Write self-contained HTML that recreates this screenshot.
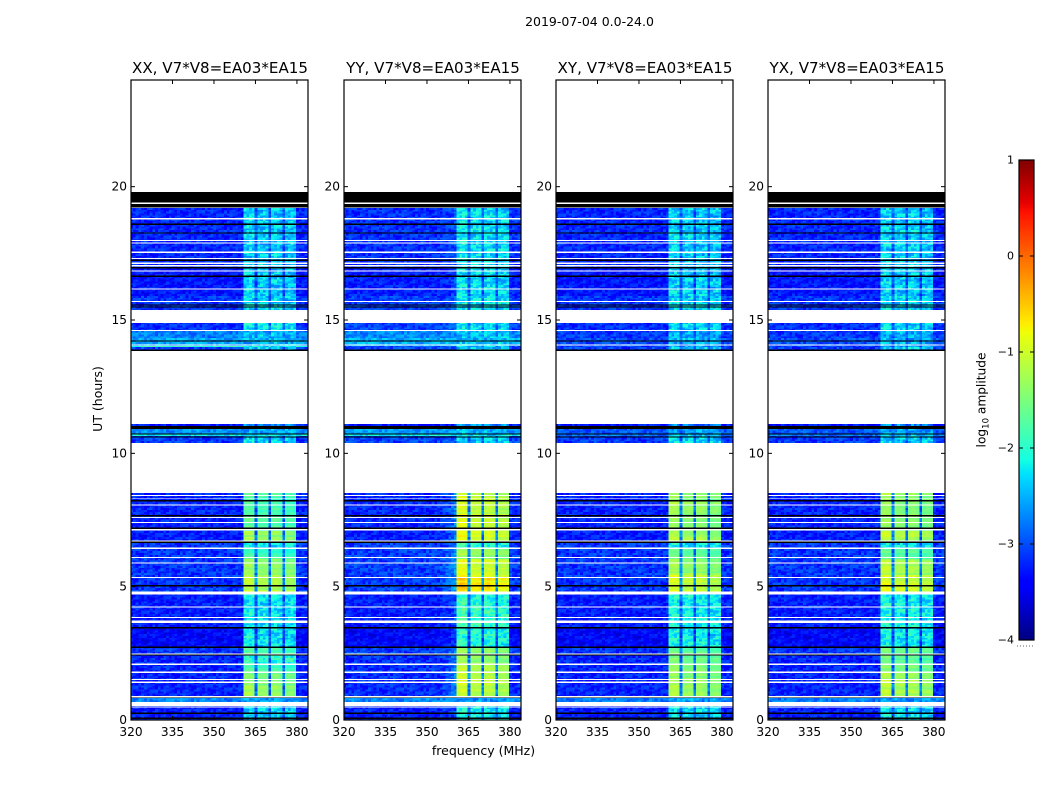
<!DOCTYPE html>
<html lang="en">
<head>
<meta charset="utf-8">
<title>2019-07-04 0.0-24.0</title>
<style>
html,body{margin:0;padding:0;background:#fff;width:1050px;height:800px;overflow:hidden}
svg{display:block}
text{font-family:"DejaVu Sans","Liberation Sans",sans-serif;fill:#000}
</style>
</head>
<body>
<svg id="chart" xmlns="http://www.w3.org/2000/svg" width="1050" height="800" viewBox="0 0 1050 800">
  <text x="589.5" y="26" text-anchor="middle" font-size="12.5">2019-07-04 0.0-24.0</text>
  <text x="483.5" y="755" text-anchor="middle" font-size="12.5">frequency (MHz)</text>
  <text transform="translate(102,399) rotate(-90)" text-anchor="middle" font-size="12.5">UT (hours)</text>
  <text transform="translate(985.5,400) rotate(-90)" text-anchor="middle" font-size="12.2">log<tspan font-size="8.5" dy="3">10</tspan><tspan dy="-3"> amplitude</tspan></text>
  <g id="panels"></g>
  <g id="colorbar"></g>
</svg>
<script>
// ---- Panels and axes ----
const panelTitles = ["XX, V7*V8=EA03*EA15", "YY, V7*V8=EA03*EA15", "XY, V7*V8=EA03*EA15", "YX, V7*V8=EA03*EA15"];
const freqTicks = [320, 335, 350, 365, 380];
const utTicks = [0, 5, 10, 15, 20];
const colorbarTicks = [-4, -3, -2, -1, 0, 1];

// ---- Time chunks in UT hours: one entry per observed block ----
const chunkStart = [16.99,15.90,15.375,14.59,14.32,14.03,13.99,13.84,11.03,10.73,10.65,10.39,7.09,6.71,6.41,6.04,5.44,4.80,4.24,3.49,2.74,2.475,2.10,1.80,1.50,0.86,0.68,0.00];
const chunkEnd   = [19.20,16.99,15.90,14.925,14.59,14.32,14.03,13.99,11.10,10.91,10.73,10.65,8.51,7.09,6.71,6.41,6.04,5.44,4.80,4.24,3.49,2.74,2.475,2.10,1.80,1.50,0.86,0.68];

// ---- Background level per chunk, log10 amplitude ----
const bgXX = [-3.2,-3.3,-3.12,-3.15,-2.75,-2.55,-1.9,-3.1,-3.3,-2.65,-2.2,-3.1,-3.22,-3.25,-3.12,-3.12,-3.12,-3.12,-3.25,-3.25,-3.4,-3.12,-3.22,-3.22,-3.22,-3.22,-2.7,-3.25];
const bgYY = [-3.15,-3.25,-3.08,-3.05,-2.7,-2.5,-3.0,-3.05,-3.3,-2.6,-2.2,-3.05,-3.2,-3.25,-3.08,-3.08,-3.08,-3.08,-3.25,-3.25,-3.4,-3.08,-3.17,-3.17,-3.17,-3.17,-2.7,-3.25];
const bgXY = [-3.2,-3.3,-3.12,-3.15,-3.1,-3.0,-3.1,-3.1,-3.3,-2.95,-2.8,-3.1,-3.22,-3.25,-3.12,-3.12,-3.12,-3.12,-3.25,-3.25,-3.4,-3.12,-3.22,-3.22,-3.22,-3.22,-2.75,-3.25];
const bgYX = [-3.2,-3.3,-3.12,-3.15,-3.1,-3.0,-3.1,-3.1,-3.3,-2.95,-2.8,-3.1,-3.22,-3.25,-3.12,-3.12,-3.12,-3.12,-3.25,-3.25,-3.4,-3.12,-3.22,-3.22,-3.22,-3.22,-2.75,-3.25];

// ---- Level of the 360-380 MHz band per chunk, log10 amplitude ----
const bandXX = [-2.35,-2.35,-2.3,-2.2,-2.45,-2.45,-2.4,-2.3,-2.6,-2.5,-2.3,-2.3,-1.75,-1.35,-2.2,-1.85,-1.4,-1.15,-2.2,-2.2,-2.2,-1.8,-1.95,-1.75,-1.55,-1.35,-2.6,-2.3];
const bandYY = [-2.25,-2.25,-2.2,-2.2,-2.4,-2.4,-2.4,-2.3,-2.6,-2.5,-2.3,-2.3,-1.0,-0.85,-2.0,-1.35,-0.9,-0.65,-2.0,-1.9,-2.0,-1.3,-1.35,-1.2,-1.05,-1.05,-2.6,-2.15];
const bandXY = [-2.35,-2.35,-2.3,-2.3,-2.5,-2.5,-2.5,-2.35,-2.7,-2.55,-2.4,-2.35,-1.35,-1.2,-2.2,-1.7,-1.3,-1.0,-2.15,-2.1,-2.15,-1.6,-1.6,-1.45,-1.35,-1.25,-2.6,-2.25];
const bandYX = [-2.35,-2.35,-2.3,-2.3,-2.5,-2.5,-2.5,-2.35,-2.7,-2.55,-2.4,-2.35,-1.35,-1.15,-2.2,-1.65,-1.2,-0.95,-2.15,-2.1,-2.15,-1.6,-1.6,-1.45,-1.3,-1.2,-2.6,-2.25];
const bgSeries = [bgXX, bgYY, bgXY, bgYX];
const bandSeries = [bandXX, bandYY, bandXY, bandYX];

// ---- Per-channel band response, channels start at 319.7 MHz (0 = background, 1 = band level) ----
const channelGain = [
  0,0,0,0,0,0,0,0,0,0, 0,0,0,0,0,0,0,0,0,0,
  0,0,0,0,0,0,0,0,0,0, 0,0,0,0,0,0,0,0,0,0,
  0,1.02,1.05,1.05,1,.33,.97,.96,.97,.96,
  .3,.97,1,.97,.93,.3,.9,.93,.93,.88,
  0,0,0,0,0];
// Extra leakage below the band seen in the YY panel only
const yyLeakChannels = [35,36,37,38,39,40];
const yyLeakGain = [.03,.05,.08,.1,.15,.2];

// Hand-typed grain offsets in dex, an approximation of the speckle in the picture
const speckleOffsets = [.12,-.28,.05,.31,-.14,-.33,.21,-.06,.16,-.24,.28,-.02,-.31,.09,.24,-.18,.02,-.36,.19,.07,
  -.11,.33,-.26,.14,-.04,-.21,.26,.01,-.34,.11,-.16,.22,-.08,.3,-.29,.04,.17,-.22,-.01,.25,
  -.13,.08,-.3,.2,-.09,.29,-.25,.13,-.19,.03,.27,-.35,.1,-.05,.23,-.15,.06,-.27,.18,-.1,.32];

// ---- Flagged rows, [centre UT, width in hours], the same in every panel ----
const blackFlags = [[19.6,.4],[19.28,.14],[18.59,.04],[18.27,.04],[17.24,.04],[16.96,.04],[16.64,.04],[15.56,.05],[15.49,.05],[14.22,.04],[13.86,.05],[10.97,.12],[10.72,.04],[10.62,.04],[8.22,.06],[7.66,.05],[7.19,.05],[6.67,.05],[5.04,.05],[3.46,.05],[2.73,.05],[2.45,.05],[0.85,.05],[0.25,.05],[0.07,.05]];
const whiteFlags = [[19.375,.03],[18.79,.06],[17.98,.04],[17.89,.04],[17.54,.04],[17.31,.04],[17.13,.05],[17.03,.05],[16.83,.04],[16.17,.04],[15.7,.04],[14.91,.04],[14.6,.04],[14.06,.04],[8.42,.04],[8.06,.04],[7.59,.04],[7.41,.04],[7.14,.06],[6.72,.04],[6.44,.04],[6.1,.04],[5.88,.04],[5.35,.04],[4.77,.11],[4.23,.04],[3.85,.04],[3.69,.09],[2.475,.04],[2.09,.04],[1.79,.04],[1.52,.04],[1.42,.05],[0.875,.05],[0.6,.16],[0.49,.03]];

// ---- Geometry and scales ----
const panelLefts = [131, 344, 556, 768];
const panelWidth = 177;
const plotTop = 80, plotBottom = 720;
const freqMin = 320, freqMax = 384, utMin = 0, utMax = 24;
const channelOrigin = 319.7;
const rowStep = 0.07;
function xScale(panel, f){ return panelLefts[panel] + (Math.max(freqMin, Math.min(freqMax, f)) - freqMin) / (freqMax - freqMin) * panelWidth; }
function yScale(u){ return plotBottom - (u - utMin) / (utMax - utMin) * (plotBottom - plotTop); }

const NS = "http://www.w3.org/2000/svg";
function make(tag, parent, attrs){
  const el = document.createElementNS(NS, tag);
  for (const k in attrs) el.setAttribute(k, attrs[k]);
  parent.appendChild(el);
  return el;
}
function lerpStops(stops, v){
  for (let i = 1; i < stops.length; i++){
    if (v <= stops[i][0]){
      const a = stops[i-1], b = stops[i];
      return a[1] + (b[1]-a[1]) * (v-a[0]) / (b[0]-a[0]);
    }
  }
  return stops[stops.length-1][1];
}
const jetR = [[0,0],[.35,0],[.66,1],[.89,1],[1,.5]];
const jetG = [[0,0],[.125,0],[.375,1],[.64,1],[.91,0],[1,0]];
const jetB = [[0,.5],[.11,1],[.34,1],[.65,0],[1,0]];
function colorOf(level){
  const v = Math.max(0, Math.min(1, (level + 4) / 5));
  const c = s => Math.round(255 * lerpStops(s, v));
  return "rgb(" + c(jetR) + "," + c(jetG) + "," + c(jetB) + ")";
}

const panelsGroup = document.getElementById("panels");
panelTitles.forEach(function(title, p){
  const g = make("g", panelsGroup, {});
  
  

  const cells = make("g", g, {"shape-rendering": "crispEdges"});
  
  

  let rowIndex = 0;
  chunkStart.forEach(function(start, k){
    const end = chunkEnd[k];
    const rows = Math.max(1, Math.round((end - start) / rowStep));
    const dt = (end - start) / rows;
    for (let r = 0; r < rows; r++){
      rowIndex++;
      const streak = speckleOffsets[(rowIndex * 7 + p) % speckleOffsets.length];
      for (let ch = 0; ch < channelGain.length; ch++){
        let gain = channelGain[ch];
        if (p === 1){
          const li = yyLeakChannels.indexOf(ch);
          if (li >= 0) gain = yyLeakGain[li];
        }
        const bg = bgSeries[p][k], band = bandSeries[p][k];
        const strong = band > -1.9;
        if (strong && gain >= 0.25 && gain < 0.5) gain *= 0.65;
        const grain = speckleOffsets[(ch * 17 + rowIndex * 29 + p * 11) % speckleOffsets.length];
        let level = bg + gain * (band - bg);
        if (gain > 0.5){
          level += strong ? grain * 0.22 + streak * 0.4 : grain * 0.95 + streak * 0.2;
        } else {
          level += grain * 0.75;
        }
        const x0 = xScale(p, channelOrigin + ch), x1 = xScale(p, channelOrigin + ch + 1);
        const yTop = yScale(start + (r + 1) * dt), yBot = yScale(start + r * dt);
        const cell = make("rect", cells, {x: x0.toFixed(2), y: yTop.toFixed(2), width: (x1 - x0).toFixed(2), height: (yBot - yTop).toFixed(2), fill: colorOf(level)});
        
        
      }
    }
  });

  const x0 = xScale(p, freqMin), x1 = xScale(p, freqMax);
  const drawFlag = function(f, color, name){
    const t = yScale(f[0] + f[1] / 2), b = yScale(f[0] - f[1] / 2);
    const flag = make("rect", g, {x: x0, y: t.toFixed(2), width: x1 - x0, height: Math.max(1, b - t).toFixed(2), fill: color, "shape-rendering": "crispEdges"});
    
    
  };
  blackFlags.forEach(function(f){ drawFlag(f, "#000", "flagged-row-black"); });
  whiteFlags.forEach(function(f){ drawFlag(f, "#fff", "flagged-row-white"); });

  const frame = make("rect", g, {x: x0, y: plotTop, width: x1 - x0, height: plotBottom - plotTop, fill: "none", stroke: "#000", "stroke-width": 1.2});
  
  

  const titleEl = make("text", g, {x: (x0 + x1) / 2 + 0.5, y: 73, "text-anchor": "middle", "font-size": 15.1});
  titleEl.textContent = title;
  
  

  freqTicks.forEach(function(f){
    const x = xScale(p, f);
    const tb = make("line", g, {x1: x, x2: x, y1: plotBottom, y2: plotBottom - 4, stroke: "#000", "stroke-width": 1});
    
    
    const tt = make("line", g, {x1: x, x2: x, y1: plotTop, y2: plotTop + 4, stroke: "#000", "stroke-width": 1});
    
    
    const lbl = make("text", g, {x: x, y: 736, "text-anchor": "middle", "font-size": 12.2});
    lbl.textContent = String(f);
    
    
  });
  utTicks.forEach(function(u){
    const y = yScale(u);
    const tl = make("line", g, {x1: x0, x2: x0 + 4, y1: y, y2: y, stroke: "#000", "stroke-width": 1});
    
    
    const tr = make("line", g, {x1: x1, x2: x1 - 4, y1: y, y2: y, stroke: "#000", "stroke-width": 1});
    
    
    const lbl = make("text", g, {x: x0 - 4, y: y + 4, "text-anchor": "end", "font-size": 12.2});
    lbl.textContent = String(u);
    
    
  });
});

// ---- Colorbar ----
const cbLeft = 1019, cbRight = 1034, cbTop = 160, cbBottom = 640;
const cbMin = -4, cbMax = 1;
function cbScale(v){ return cbBottom - (v - cbMin) / (cbMax - cbMin) * (cbBottom - cbTop); }
const cbGroup = document.getElementById("colorbar");
for (let i = 0; i < 240; i++){
  const lo = cbMin + (cbMax - cbMin) * i / 240, hi = cbMin + (cbMax - cbMin) * (i + 1) / 240;
  const seg = make("rect", cbGroup, {x: cbLeft, y: cbScale(hi), width: cbRight - cbLeft, height: cbScale(lo) - cbScale(hi), fill: colorOf((lo + hi) / 2), "shape-rendering": "crispEdges"});
  
  
}
const cbFrame = make("rect", cbGroup, {x: cbLeft, y: cbTop, width: cbRight - cbLeft, height: cbBottom - cbTop, fill: "none", stroke: "#000", "stroke-width": 1.2});


colorbarTicks.forEach(function(v){
  const y = cbScale(v);
  const a = make("line", cbGroup, {x1: cbLeft, x2: cbLeft + 4, y1: y, y2: y, stroke: "#000", "stroke-width": 1});
  
  
  const b = make("line", cbGroup, {x1: cbRight, x2: cbRight - 4, y1: y, y2: y, stroke: "#000", "stroke-width": 1});
  
  
  const lbl = make("text", cbGroup, {x: cbLeft - 5, y: y + 3.5, "text-anchor": "end", "font-size": 11});
  lbl.textContent = String(v).replace("-", "\u2212");
  
  
});
const dots = make("line", cbGroup, {x1: 1017, x2: 1035, y1: 646, y2: 646, stroke: "#666", "stroke-width": 1, "stroke-dasharray": "1 2"});


</script>
</body>
</html>
